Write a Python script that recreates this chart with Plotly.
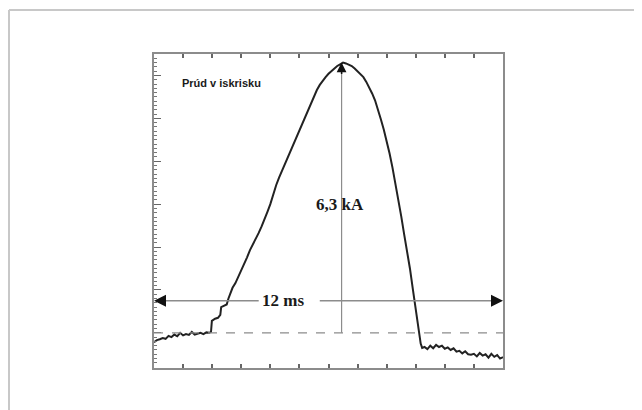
import plotly.graph_objects as go

# Time (ms) and current (kA)
time_ms = [0.00, 0.10, 0.20, 0.30, 0.40, 0.50, 0.60, 0.70, 0.80, 0.90, 1.00, 1.10, 1.20, 1.30,
           1.40, 1.50, 1.60, 1.70, 1.80, 1.90, 1.96, 1.99, 2.10, 2.20, 2.28, 2.31, 2.40, 2.50,
           2.56, 2.62, 2.70, 2.80, 2.90, 3.00, 3.10, 3.20, 3.30, 3.40, 3.50, 3.60, 3.70, 3.80,
           3.90, 4.00, 4.10, 4.20, 4.30, 4.40, 4.50, 4.60, 4.70, 4.80, 4.90, 5.00, 5.10, 5.20,
           5.30, 5.40, 5.50, 5.60, 5.70, 5.80, 5.90, 6.00, 6.10, 6.20, 6.30, 6.40, 6.50, 6.60,
           6.70, 6.80, 6.90, 7.00, 7.10, 7.20, 7.30, 7.40, 7.50, 7.60, 7.70, 7.80, 7.90, 8.00,
           8.10, 8.20, 8.30, 8.40, 8.50, 8.60, 8.70, 8.80, 8.90, 9.00, 9.10, 9.17, 9.22, 9.30,
           9.40, 9.50, 9.60, 9.70, 9.80, 9.90, 10.00, 10.10, 10.20, 10.30, 10.40, 10.50, 10.60,
           10.70, 10.80, 10.90, 11.00, 11.10, 11.20, 11.30, 11.40, 11.50, 11.60, 11.70, 11.80,
           11.90, 12.00]
current_ka = [-0.22, -0.17, -0.15, -0.12, -0.14, -0.07, -0.10, -0.04, -0.08, 0.00, -0.06, -0.03,
              -0.05, 0.02, -0.04, -0.02, 0.00, -0.03, 0.01, 0.00, 0.02, 0.28, 0.33, 0.35, 0.42,
              0.60, 0.63, 0.66, 0.80, 0.93, 1.05, 1.16, 1.30, 1.44, 1.60, 1.76, 1.93, 2.06, 2.18,
              2.33, 2.48, 2.63, 2.82, 3.00, 3.23, 3.44, 3.62, 3.78, 3.94, 4.10, 4.25, 4.40, 4.56,
              4.72, 4.88, 5.04, 5.20, 5.37, 5.52, 5.66, 5.78, 5.88, 5.96, 6.04, 6.10, 6.17, 6.22,
              6.26, 6.30, 6.28, 6.25, 6.22, 6.16, 6.10, 6.03, 5.96, 5.85, 5.72, 5.58, 5.42, 5.22,
              4.98, 4.74, 4.48, 4.18, 3.85, 3.50, 3.12, 2.72, 2.30, 1.92, 1.50, 1.02, 0.58, 0.12,
              -0.25, -0.35, -0.33, -0.38, -0.30, -0.36, -0.28, -0.33, -0.30, -0.37, -0.34, -0.40,
              -0.36, -0.44, -0.42, -0.48, -0.43, -0.50, -0.51, -0.49, -0.55, -0.47, -0.53, -0.50,
              -0.58, -0.49, -0.56, -0.52, -0.60, -0.57]

x_range = [0, 12]
y_range = [-0.82, 6.5]
peak_time = 6.45
peak_value = 6.3
duration_level = 0.75
title_text = "Prúd v iskrisku"
amp_label = "6,3 kA"
dur_label = "12 ms"

fig = go.Figure()
fig.add_trace(go.Scatter(x=time_ms, y=current_ka, mode="lines",
                         line=dict(color="#222222", width=2), hoverinfo="skip",
                         showlegend=False))

gray = "#8c8c8c"
shapes = [
    dict(type="line", xref="x", yref="y", x0=x_range[0], x1=x_range[1], y0=0, y1=0,
         line=dict(color=gray, width=1.2, dash="dash")),
    dict(type="line", xref="x", yref="y", x0=peak_time, x1=peak_time, y0=0, y1=peak_value - 0.1,
         line=dict(color=gray, width=1.2)),
    dict(type="line", xref="x", yref="y", x0=x_range[0] + 0.2, x1=3.6, y0=duration_level,
         y1=duration_level, line=dict(color=gray, width=1.5)),
    dict(type="line", xref="x", yref="y", x0=5.7, x1=x_range[1] - 0.2, y0=duration_level,
         y1=duration_level, line=dict(color=gray, width=1.5)),
    dict(type="line", xref="paper", yref="paper", x0=-0.4155, x1=1.40, y0=1.140, y1=1.140,
         line=dict(color="#c8c8c8", width=2)),
    dict(type="line", xref="paper", yref="paper", x0=-0.4155, x1=-0.4155, y0=1.140, y1=-0.14,
         line=dict(color="#c8c8c8", width=2)),
]

annotations = [
    dict(x=x_range[0], y=duration_level, ax=x_range[0] + 0.4, ay=duration_level,
         xref="x", yref="y", axref="x", ayref="y", text="", showarrow=True,
         arrowhead=2, arrowsize=1.6, arrowwidth=1.5, arrowcolor="#111111"),
    dict(x=x_range[1], y=duration_level, ax=x_range[1] - 0.4, ay=duration_level,
         xref="x", yref="y", axref="x", ayref="y", text="", showarrow=True,
         arrowhead=2, arrowsize=1.6, arrowwidth=1.5, arrowcolor="#111111"),
    dict(x=peak_time, y=peak_value, ax=peak_time, ay=peak_value - 0.3,
         xref="x", yref="y", axref="x", ayref="y", text="", showarrow=True,
         arrowhead=2, arrowsize=1.3, arrowwidth=1.5, arrowcolor="#111111"),
    dict(x=4.45, y=duration_level, xref="x", yref="y", text="<b>" + dur_label + "</b>",
         showarrow=False, font=dict(family="Liberation Serif", size=17, color="#1a1a1a")),
    dict(x=peak_time - 0.05, y=2.98, xref="x", yref="y", text="<b>" + amp_label + "</b>",
         showarrow=False, font=dict(family="Liberation Serif", size=17, color="#1a1a1a")),
    dict(x=0.89, y=5.83, xref="x", yref="y", text="<b>" + title_text + "</b>",
         showarrow=False, xanchor="left",
         font=dict(family="Liberation Sans", size=11, color="#1a1a1a")),
]

fig.update_layout(
    width=634, height=402,
    margin=dict(l=146, r=139, t=46, b=42),
    paper_bgcolor="white", plot_bgcolor="white",
    shapes=shapes, annotations=annotations, showlegend=False,
    xaxis=dict(range=x_range, showgrid=False, zeroline=False, showticklabels=False,
               showline=True, linecolor=gray, linewidth=2, mirror="ticks",
               ticks="inside", tick0=0, dtick=1, ticklen=4, tickwidth=1.5,
               tickcolor="#666666"),
    yaxis=dict(range=y_range, showgrid=False, zeroline=False, showticklabels=False,
               showline=True, linecolor=gray, linewidth=2, mirror=True,
               ticks="inside", tick0=0, dtick=1, ticklen=7, tickwidth=1.2,
               tickcolor="#666666",
               minor=dict(ticks="inside", dtick=0.1, ticklen=3, tickwidth=1,
                          tickcolor="#777777")),
)

fig.write_html("out.html")
